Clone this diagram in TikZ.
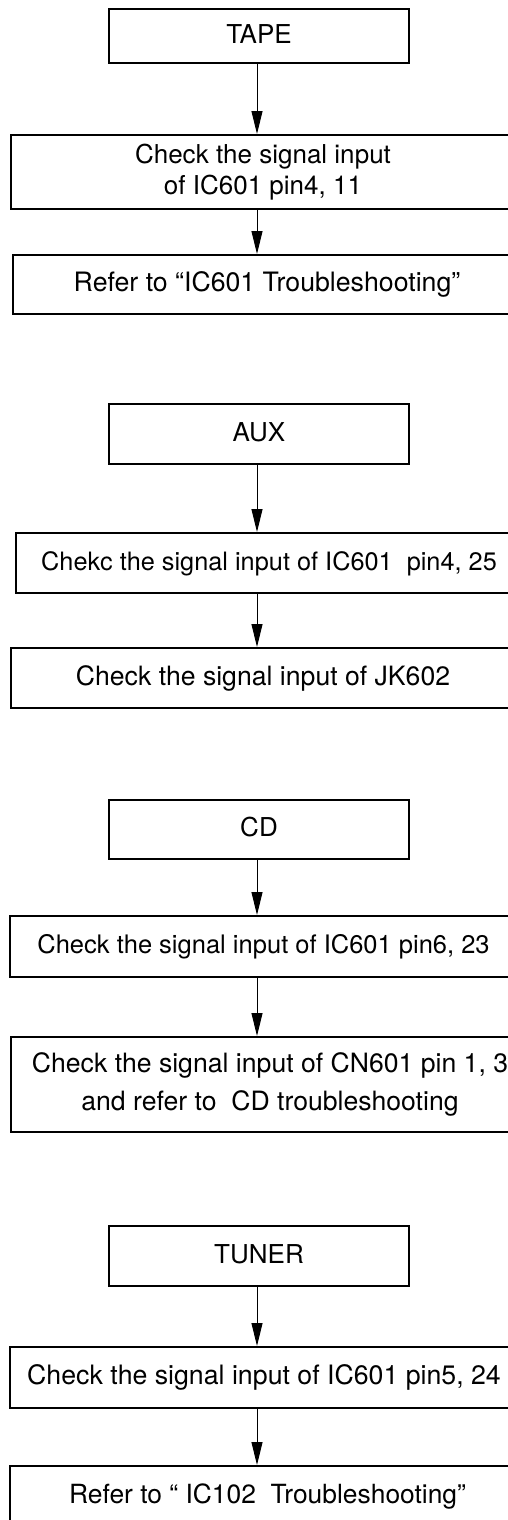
\documentclass[tikz,border=0pt]{standalone}
\usepackage{fontspec}
\setmainfont{TeX Gyre Heros}
\usetikzlibrary{arrows.meta}
\begin{document}
\begin{tikzpicture}[x=1pt,y=-1pt,
  box/.style={draw, line width=2pt, rectangle, inner sep=0pt, align=center},
  one/.style={text height=18.7pt, text depth=4pt},
  fs/.style 2 args={font=\fontsize{#1}{#2}\selectfont},
  arr/.style={-{Triangle[length=23pt,width=11pt]}, line width=1pt}]
\fill[white] (0,0) rectangle (508,1520);
\useasboundingbox (0,0) rectangle (508,1520);
\clip (0,0) rectangle (508,1520);
\coordinate (axis) at (257,0);

% TAPE
\node[box, one, fs={26}{31}, minimum width=300pt, minimum height=54pt] (tape) at (259,36) {TAPE};
\node[box, fs={26}{31}, minimum width=504pt, minimum height=74pt] (t2) at (263,172) {Check the signal input\\of IC601 pin4, 11};
\node[box, one, fs={26.7}{31}, minimum width=508pt, minimum height=59pt] (t3) at (267,284.5) {Refer to “IC601 Troubleshooting”};

% AUX
\node[box, one, fs={26}{31}, minimum width=300pt, minimum height=60pt] (aux) at (259,434) {AUX};
\node[box, one, fs={25.3}{31}, minimum width=506pt, minimum height=60pt] (a2) at (269,563) {Chekc the signal input of IC601~ pin4, 25};
\node[box, one, fs={26.6}{31}, minimum width=504pt, minimum height=60pt] (a3) at (263,678) {Check the signal input of JK602};

% CD
\node[box, one, fs={26}{31}, minimum width=300pt, minimum height=59pt] (cd) at (259,829.5) {CD};
\node[box, one, fs={25.5}{31}, minimum width=507pt, minimum height=61pt] (c2) at (263.5,946.5) {Check the signal input of IC601 pin6, 23};
\node[box, fs={26.6}{38}, minimum width=518pt, minimum height=95pt] (c3) at (270,1084.5) {Check the signal input of CN601 pin 1, 3\\and refer to~ CD troubleshooting};

% TUNER
\node[box, one, fs={26}{31}, minimum width=300pt, minimum height=60pt] (tuner) at (259,1256) {TUNER};
\node[box, one, fs={26.7}{31}, minimum width=508pt, minimum height=61pt] (u2) at (264,1377.5) {Check the signal input of IC601 pin5, 24};
\node[box, one, fs={26.4}{31}, minimum width=515pt, minimum height=60pt] (u3) at (267.5,1496) {Refer to “ IC102~ Troubleshooting”};

\draw[arr] (tape.south -| axis) -- (t2.north -| axis);
\draw[arr] (t2.south -| axis) -- (t3.north -| axis);
\draw[arr] (aux.south -| axis) -- (a2.north -| axis);
\draw[arr] (a2.south -| axis) -- (a3.north -| axis);
\draw[arr] (cd.south -| axis) -- (c2.north -| axis);
\draw[arr] (c2.south -| axis) -- (c3.north -| axis);
\draw[arr] (tuner.south -| axis) -- (u2.north -| axis);
\draw[arr] (u2.south -| axis) -- (u3.north -| axis);
\end{tikzpicture}
\end{document}
